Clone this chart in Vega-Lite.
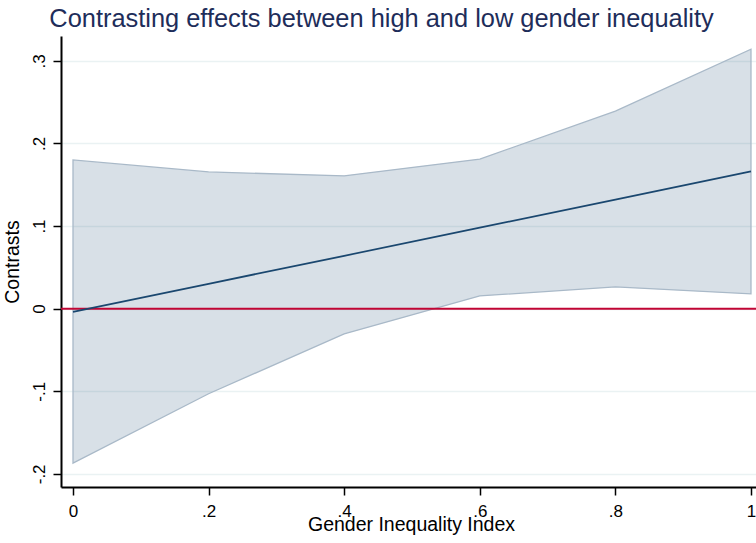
{
  "$schema": "https://vega.github.io/schema/vega-lite/v6.json",
  "autosize": "none",
  "width": 695,
  "height": 451,
  "padding": {"left": 61, "top": 36, "right": 0, "bottom": 56},
  "background": "white",
  "config": {"view": {"stroke": null}, "font": "Liberation Sans"},
  "title": {
    "text": "Contrasting effects between high and low gender inequality",
    "anchor": "middle",
    "frame": "group",
    "dx": -27,
    "offset": 4,
    "fontSize": 25.4,
    "fontWeight": "normal",
    "color": "#1e2d5a",
    "font": "Liberation Sans"
  },
  "data": {
    "values": [
      {"x": 0.0, "est": -0.004, "lo": -0.187, "hi": 0.180},
      {"x": 0.2, "est": 0.030, "lo": -0.103, "hi": 0.1655},
      {"x": 0.4, "est": 0.064, "lo": -0.0306, "hi": 0.1607},
      {"x": 0.6, "est": 0.098, "lo": 0.0154, "hi": 0.181},
      {"x": 0.8, "est": 0.132, "lo": 0.0263, "hi": 0.239},
      {"x": 1.0, "est": 0.166, "lo": 0.0178, "hi": 0.314}
    ]
  },
  "encoding": {
    "x": {
      "field": "x", "type": "quantitative",
      "scale": {"domain": [-0.0177, 1.0074], "nice": false, "zero": false},
      "axis": {
        "title": "Gender Inequality Index",
        "values": [0, 0.2, 0.4, 0.6, 0.8, 1],
        "labelExpr": "datum.value == 0 ? '0' : datum.value == 1 ? '1' : replace(format(datum.value, '.1f'), '0.', '.')",
        "grid": false,
        "domainColor": "black", "domainWidth": 2,
        "tickColor": "black", "tickWidth": 1.5, "tickSize": 8,
        "labelFontSize": 17, "labelColor": "black", "labelPadding": 8,
        "labelFont": "Liberation Sans",
        "titleFontSize": 19.5, "titleFontWeight": "normal", "titleColor": "black",
        "titleFont": "Liberation Sans",
        "titleX": 350, "titleY": 43, "titleBaseline": "alphabetic", "titleAlign": "center"
      }
    }
  },
  "layer": [
    {
      "mark": {"type": "area", "color": "#1a476f", "fillOpacity": 0.17, "stroke": "#a9b9c8", "strokeWidth": 1.3, "strokeOpacity": 1},
      "encoding": {
        "y": {
          "field": "lo", "type": "quantitative",
          "scale": {"domain": [-0.2159, 0.330], "nice": false, "zero": false},
          "axis": {
            "title": "Contrasts",
            "values": [-0.2, -0.1, 0, 0.1, 0.2, 0.3],
            "labelExpr": "datum.value == 0 ? '0' : (datum.value < 0 ? '-' : '') + replace(format(abs(datum.value), '.1f'), '0.', '.')",
            "grid": true, "gridColor": "#eaf2f3", "gridWidth": 1.5,
            "labelAngle": 270,
            "labelAlign": "center",
            "labelBaseline": "bottom",
            "domainColor": "black", "domainWidth": 2,
            "tickColor": "black", "tickWidth": 1.5, "tickSize": 8,
            "labelFontSize": 17, "labelColor": "black", "labelPadding": 5,
            "labelFont": "Liberation Sans",
            "titleFontSize": 19.5, "titleFontWeight": "normal", "titleColor": "black",
            "titleFont": "Liberation Sans", "titlePadding": 8
          }
        },
        "y2": {"field": "hi"}
      }
    },
    {
      "mark": {"type": "rule", "color": "#c10534", "strokeWidth": 2},
      "data": {"values": [{"z": 0}]},
      "encoding": {"x": null, "y": {"field": "z", "type": "quantitative"}}
    },
    {
      "mark": {"type": "line", "color": "#1a476f", "strokeWidth": 1.8},
      "encoding": {"y": {"field": "est", "type": "quantitative"}}
    }
  ]
}
